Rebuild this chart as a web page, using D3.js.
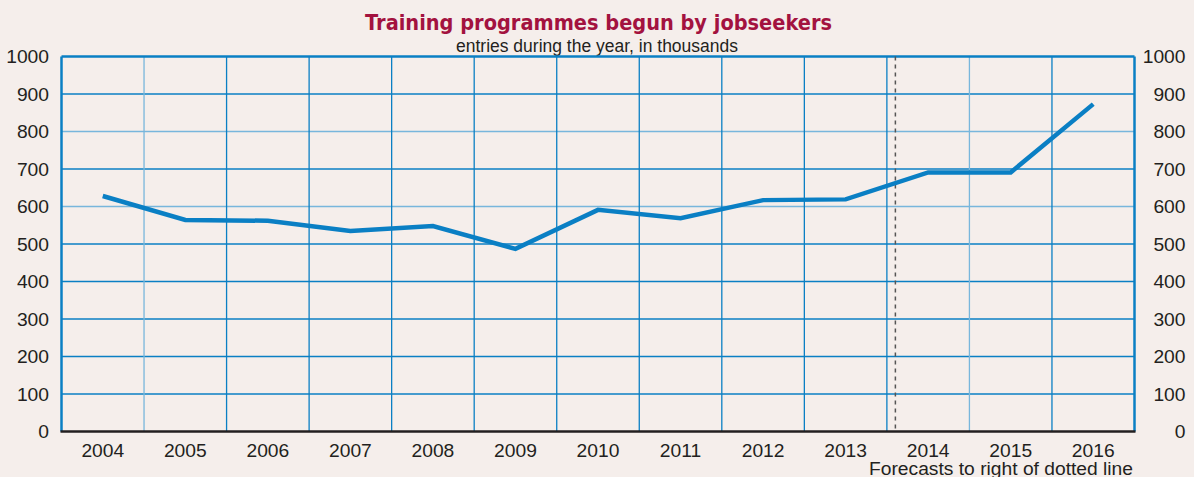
<!DOCTYPE html>
<html>
<head>
<meta charset="utf-8">
<script src="https://cdn.jsdelivr.net/npm/d3@7"></script>
<style>
  body { margin: 0; background: #f5eeeb; }
  text { font-family: "Liberation Sans", Arial, sans-serif; fill: #231f20; }
</style>
</head>
<body>
<div id="chart"></div>
<script>
// data
const years = ["2004", "2005", "2006", "2007", "2008", "2009", "2010", "2011", "2012", "2013", "2014", "2015", "2016"];
const entries = [628, 564, 562, 535, 548, 487, 591, 569, 617, 619, 691, 691, 873];
const yTicks = [0, 100, 200, 300, 400, 500, 600, 700, 800, 900, 1000];
const forecastFrom = "2014";

const width = 1194, height = 477;
const margin = { top: 56.5, left: 61.5, right: 59.5, bottom: 45.5 };
const innerW = width - margin.left - margin.right;
const innerH = height - margin.top - margin.bottom;
const blue = "#0a7fc4";
const lightBlue = "#78b6dc";
const stretch = 1.1; // labels in the original are slightly wide

const svg = d3.select("#chart").append("svg")
    .attr("width", width)
    .attr("height", height);

svg.append("rect").attr("width", width).attr("height", height).attr("fill", "#f5eeeb");

// titles
svg.append("text")
    .attr("x", 365).attr("y", 29.5)
    .attr("textLength", 467)
    .attr("lengthAdjust", "spacingAndGlyphs")
    .style("font-family", "'DejaVu Sans', sans-serif")
    .style("font-weight", "bold")
    .style("font-size", "21px")
    .style("fill", "#a3123f")
    .text("Training programmes begun by jobseekers");

svg.append("text")
    .attr("x", 456).attr("y", 51.5)
    .attr("textLength", 282)
    .attr("lengthAdjust", "spacingAndGlyphs")
    .style("font-size", "17.5px")
    .text("entries during the year, in thousands");

const chart = svg.append("g")
    .attr("transform", `translate(${margin.left},${margin.top})`);

const x = d3.scaleBand().domain(years).range([0, innerW]);
const y = d3.scaleLinear().domain([0, 1000]).range([innerH, 0]);

// horizontal grid
chart.selectAll(".hgrid")
    .data(yTicks.filter(d => d > 0 && d < 1000))
    .join("line")
    .attr("class", "hgrid")
    .attr("x1", 0).attr("x2", innerW)
    .attr("y1", d => y(d)).attr("y2", d => y(d))
    .attr("stroke", d => (d === 600 || d === 800) ? lightBlue : blue)
    .attr("stroke-width", 1.3);

// vertical grid at band boundaries
chart.selectAll(".vgrid")
    .data(years.slice(1))
    .join("line")
    .attr("class", "vgrid")
    .attr("x1", d => x(d)).attr("x2", d => x(d))
    .attr("y1", 0).attr("y2", innerH)
    .attr("stroke", d => (d === "2005" || d === "2015") ? lightBlue : blue)
    .attr("stroke-width", 1.3);

// frame
chart.append("line").attr("x1", 0).attr("x2", innerW).attr("y1", 0).attr("y2", 0)
    .attr("stroke", blue).attr("stroke-width", 2.5);
chart.append("line").attr("x1", 0).attr("x2", 0).attr("y1", 0).attr("y2", innerH)
    .attr("stroke", blue).attr("stroke-width", 2.5);
chart.append("line").attr("x1", innerW).attr("x2", innerW).attr("y1", 0).attr("y2", innerH)
    .attr("stroke", blue).attr("stroke-width", 2.5);

// forecast dotted line
const fx = x(forecastFrom) + 8.5;
chart.append("line")
    .attr("x1", fx).attr("x2", fx)
    .attr("y1", 0).attr("y2", innerH)
    .attr("stroke", "#555")
    .attr("stroke-width", 1.5)
    .attr("stroke-dasharray", "4,4");

// baseline
chart.append("line").attr("x1", -1).attr("x2", innerW + 1).attr("y1", innerH).attr("y2", innerH)
    .attr("stroke", "#231f20").attr("stroke-width", 2.5);

// line
const line = d3.line()
    .x((d, i) => x(years[i]) + x.bandwidth() / 2)
    .y(d => y(d));

chart.append("path")
    .datum(entries)
    .attr("d", line)
    .attr("fill", "none")
    .attr("stroke", blue)
    .attr("stroke-width", 4.5)
    .attr("stroke-linejoin", "miter");

// axes
const fmt = d3.format("d");
const yLeft = d3.axisLeft(y).tickValues(yTicks).tickFormat(fmt).tickSize(0);
const yRight = d3.axisRight(y).tickValues(yTicks).tickFormat(fmt).tickSize(0);
const xBottom = d3.axisBottom(x).tickSize(0);

chart.append("g").call(yLeft)
    .call(g => g.select(".domain").remove())
    .selectAll("text")
    .style("font-size", "17.5px")
    .attr("dy", "0.35em")
    .attr("x", -12.5 / stretch)
    .attr("transform", `scale(${stretch},1)`);

const gr = chart.append("g").attr("transform", `translate(${innerW},0)`).call(yRight);
gr.select(".domain").remove();
gr.selectAll("text")
    .style("font-size", "17.5px")
    .attr("dy", "0.35em")
    .attr("text-anchor", "end")
    .attr("x", 51 / stretch)
    .attr("transform", `scale(${stretch},1)`);

chart.append("g").attr("transform", `translate(0,${innerH})`).call(xBottom)
    .call(g => g.select(".domain").remove())
    .selectAll("text")
    .style("font-size", "17.5px")
    .attr("y", 25.5)
    .attr("dy", null)
    .attr("transform", `scale(${stretch},1)`);

// footnote
svg.append("text")
    .attr("x", 869).attr("y", 474.5)
    .attr("textLength", 264)
    .attr("lengthAdjust", "spacingAndGlyphs")
    .style("font-size", "17.5px")
    .text("Forecasts to right of dotted line");
</script>
</body>
</html>
